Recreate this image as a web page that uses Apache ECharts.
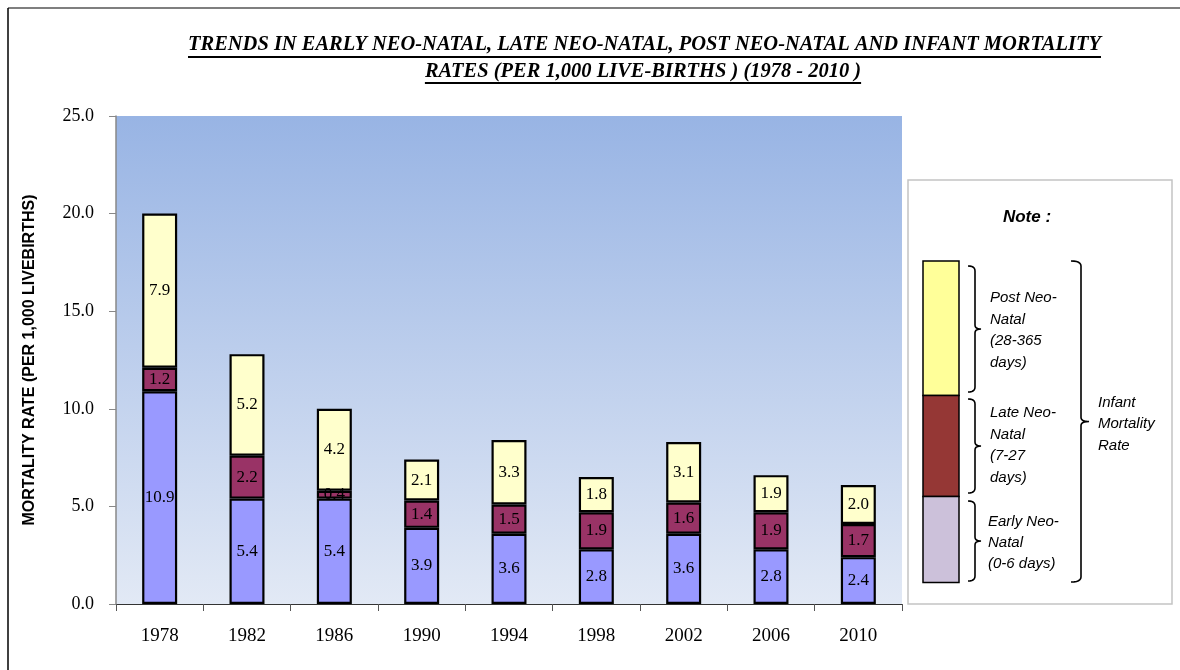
<!DOCTYPE html>
<html>
<head>
<meta charset="utf-8">
<script src="https://cdn.jsdelivr.net/npm/echarts@6/dist/echarts.min.js"></script>
<style>html,body{margin:0;padding:0;background:#fff}#c{width:1180px;height:670px}</style>
</head>
<body>
<div id="c"></div>
<script>
var years = ['1978','1982','1986','1990','1994','1998','2002','2006','2010'];
var earlyNeoNatal = [10.9, 5.4, 5.4, 3.9, 3.6, 2.8, 3.6, 2.8, 2.4];
var lateNeoNatal  = [1.2, 2.2, 0.4, 1.4, 1.5, 1.9, 1.6, 1.9, 1.7];
var postNeoNatal  = [7.9, 5.2, 4.2, 2.1, 3.3, 1.8, 3.1, 1.9, 2.0];
var yTicks = [0, 5, 10, 15, 20, 25];
var titleLines = ['TRENDS IN EARLY NEO-NATAL, LATE NEO-NATAL, POST NEO-NATAL AND INFANT MORTALITY',
                  'RATES (PER 1,000 LIVE-BIRTHS ) (1978 - 2010 )'];

var serif = '"Liberation Serif", "DejaVu Serif", serif';
var sans = '"Liberation Sans", "DejaVu Sans", sans-serif';

function measure(text, font) {
  var c = document.createElement('canvas').getContext('2d');
  c.font = font;
  return c.measureText(text).width;
}
var titleFont = 'italic bold 22px "Liberation Serif"';
var t1w = measure(titleLines[0], titleFont);
var t2w = measure(titleLines[1], titleFont);
var sx = 913 / t1w;

function quad(pts, x0, y0, cx, cy, x1, y1) {
  for (var i = 1; i <= 6; i++) {
    var t = i / 6, u = 1 - t;
    pts.push([u * u * x0 + 2 * u * t * cx + t * t * x1, u * u * y0 + 2 * u * t * cy + t * t * y1]);
  }
}
function brace(xEnd, xSpine, xPoint, y1, y2) {
  var mid = (y1 + y2) / 2;
  var pts = [[xEnd, y1]];
  quad(pts, xEnd, y1, xSpine, y1, xSpine, y1 + 5);
  pts.push([xSpine, mid - 4]);
  quad(pts, xSpine, mid - 4, xSpine, mid, xPoint, mid);
  quad(pts, xPoint, mid, xSpine, mid, xSpine, mid + 4);
  pts.push([xSpine, y2 - 5]);
  quad(pts, xSpine, y2 - 5, xSpine, y2, xEnd, y2);
  return {type: 'polyline', shape: {points: pts}, style: {fill: null, stroke: '#000', lineWidth: 1.6}};
}

var labelCfg = {show: true, position: 'inside', color: '#000', fontFamily: serif, fontSize: 17,
  formatter: function (p) { return p.value.toFixed(1); }};

function barSeries(name, data, color) {
  return {
    name: name, type: 'bar', stack: 'total', data: data, barWidth: 35,
    itemStyle: {color: color, borderColor: '#000', borderWidth: 2.2},
    label: labelCfg
  };
}

var chart = echarts.init(document.getElementById('c'));
chart.setOption({
  animation: false,
  backgroundColor: '#fff',
  grid: {
    left: 116, top: 116, width: 786, height: 488, show: true, borderWidth: 0,
    backgroundColor: {type: 'linear', x: 0, y: 0, x2: 0, y2: 1, colorStops: [
      {offset: 0, color: '#98b4e4'}, {offset: 1, color: '#e2e9f5'}]}
  },
  xAxis: {
    type: 'category', data: years,
    axisLine: {lineStyle: {color: '#333', width: 1}},
    axisTick: {show: true, length: 7, lineStyle: {color: '#555'}},
    axisLabel: {color: '#000', fontFamily: serif, fontSize: 19, margin: 23}
  },
  yAxis: {
    type: 'value', min: yTicks[0], max: yTicks[yTicks.length - 1], interval: 5,
    name: 'MORTALITY RATE (PER 1,000 LIVEBIRTHS)', nameLocation: 'middle', nameGap: 78,
    nameTextStyle: {color: '#000', fontFamily: sans, fontWeight: 'bold', fontSize: 16},
    axisLine: {show: true, lineStyle: {color: '#888', width: 1.5}},
    axisTick: {show: true, length: 7, lineStyle: {color: '#888'}},
    splitLine: {show: false},
    axisLabel: {color: '#000', fontFamily: serif, fontSize: 18, margin: 22,
      formatter: function (v) { return v.toFixed(1); }}
  },
  series: [
    barSeries('Early Neo-Natal', earlyNeoNatal, '#9999ff'),
    barSeries('Late Neo-Natal', lateNeoNatal, '#993366'),
    barSeries('Post Neo-Natal', postNeoNatal, '#ffffcc')
  ],
  graphic: [
    {type: 'line', shape: {x1: 8, y1: 8, x2: 1180, y2: 8}, style: {stroke: '#555', lineWidth: 1.5}},
    {type: 'line', shape: {x1: 8, y1: 8, x2: 8, y2: 670}, style: {stroke: '#000', lineWidth: 1.5}},
    {type: 'text', x: 644.5, y: 33, scaleX: sx, style: {text: titleLines[0], font: titleFont, fill: '#000', textAlign: 'center', textVerticalAlign: 'top'}},
    {type: 'text', x: 643, y: 60, scaleX: sx, style: {text: titleLines[1], font: titleFont, fill: '#000', textAlign: 'center', textVerticalAlign: 'top'}},
    {type: 'line', shape: {x1: 644.5 - 913 / 2, y1: 57, x2: 644.5 + 913 / 2, y2: 57}, style: {stroke: '#000', lineWidth: 2}},
    {type: 'line', shape: {x1: 643 - t2w * sx / 2, y1: 83, x2: 643 + t2w * sx / 2, y2: 83}, style: {stroke: '#000', lineWidth: 2}},
    {type: 'rect', shape: {x: 908, y: 180, width: 264, height: 424}, style: {fill: '#fff', stroke: '#c4c4c4', lineWidth: 1.5}},
    {type: 'text', x: 1027, y: 217, style: {text: 'Note :', font: 'italic bold 17px "Liberation Sans"', fill: '#000', textAlign: 'center', textVerticalAlign: 'middle'}},
    {type: 'rect', shape: {x: 923, y: 261, width: 36, height: 134.5}, style: {fill: '#ffff99', stroke: '#000', lineWidth: 1.5}},
    {type: 'rect', shape: {x: 923, y: 395.5, width: 36, height: 101}, style: {fill: '#953735', stroke: '#000', lineWidth: 1.5}},
    {type: 'rect', shape: {x: 923, y: 496.5, width: 36, height: 86}, style: {fill: '#ccc1da', stroke: '#000', lineWidth: 1.5}},
    brace(968, 975, 981, 266, 392),
    brace(968, 975, 981, 399, 493),
    brace(968, 975, 981, 501, 581),
    brace(1071, 1081, 1089, 261, 582),
    {type: 'text', x: 990, y: 287, style: {text: 'Post Neo-\nNatal\n(28-365\ndays)', font: 'italic 15px "Liberation Sans"', lineHeight: 21.7, fill: '#000', textAlign: 'left', textVerticalAlign: 'top'}},
    {type: 'text', x: 990, y: 402, style: {text: 'Late Neo-\nNatal\n(7-27\ndays)', font: 'italic 15px "Liberation Sans"', lineHeight: 21.7, fill: '#000', textAlign: 'left', textVerticalAlign: 'top'}},
    {type: 'text', x: 988, y: 511, style: {text: 'Early Neo-\nNatal\n(0-6 days)', font: 'italic 15px "Liberation Sans"', lineHeight: 21.3, fill: '#000', textAlign: 'left', textVerticalAlign: 'top'}},
    {type: 'text', x: 1098, y: 392, style: {text: 'Infant\nMortality\nRate', font: 'italic 15px "Liberation Sans"', lineHeight: 21.5, fill: '#000', textAlign: 'left', textVerticalAlign: 'top'}}
  ]
});
</script>
</body>
</html>
